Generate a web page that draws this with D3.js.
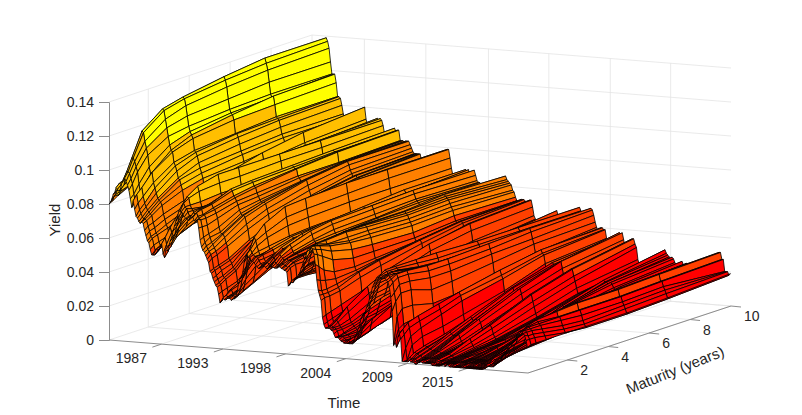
<!DOCTYPE html>
<html>
<head>
<meta charset="utf-8">
<script src="https://cdn.jsdelivr.net/npm/d3@7"></script>
<style>
  html, body { margin: 0; padding: 0; background: #fff; }
  text { font-family: "Liberation Sans", Arial, sans-serif; fill: #262626; }
</style>
</head>
<body>
<div id="surface"></div>
<script>
// maturities in years, one column per entry in yieldRows
const maturities = [0.08, 0.25, 0.5, 1, 2, 3, 5, 7, 10];

// date of each row
const dates = [
  1983,1983.125,1983.25,1983.375,1983.5,1983.625,1983.75,1983.875,
  1984,1984.125,1984.25,1984.375,1984.5,1984.625,1984.75,1984.875,
  1985,1985.125,1985.25,1985.375,1985.5,1985.625,1985.75,1985.875,
  1986,1986.125,1986.25,1986.375,1986.5,1986.625,1986.75,1986.875,
  1987,1987.125,1987.25,1987.375,1987.5,1987.625,1987.75,1987.875,
  1988,1988.125,1988.25,1988.375,1988.5,1988.625,1988.75,1988.875,
  1989,1989.125,1989.25,1989.375,1989.5,1989.625,1989.75,1989.875,
  1990,1990.125,1990.25,1990.375,1990.5,1990.625,1990.75,1990.875,
  1991,1991.125,1991.25,1991.375,1991.5,1991.625,1991.75,1991.875,
  1992,1992.125,1992.25,1992.375,1992.5,1992.625,1992.75,1992.875,
  1993,1993.125,1993.25,1993.375,1993.5,1993.625,1993.75,1993.875,
  1994,1994.125,1994.25,1994.375,1994.5,1994.625,1994.75,1994.875,
  1995,1995.125,1995.25,1995.375,1995.5,1995.625,1995.75,1995.875,
  1996,1996.125,1996.25,1996.375,1996.5,1996.625,1996.75,1996.875,
  1997,1997.125,1997.25,1997.375,1997.5,1997.625,1997.75,1997.875,
  1998,1998.125,1998.25,1998.375,1998.5,1998.625,1998.75,1998.875,
  1999,1999.125,1999.25,1999.375,1999.5,1999.625,1999.75,1999.875,
  2000,2000.125,2000.25,2000.375,2000.5,2000.625,2000.75,2000.875,
  2001,2001.125,2001.25,2001.375,2001.5,2001.625,2001.75,2001.875,
  2002,2002.125,2002.25,2002.375,2002.5,2002.625,2002.75,2002.875,
  2003,2003.125,2003.25,2003.375,2003.5,2003.625,2003.75,2003.875,
  2004,2004.125,2004.25,2004.375,2004.5,2004.625,2004.75,2004.875,
  2005,2005.125,2005.25,2005.375,2005.5,2005.625,2005.75,2005.875,
  2006,2006.125,2006.25,2006.375,2006.5,2006.625,2006.75,2006.875,
  2007,2007.125,2007.25,2007.375,2007.5,2007.625,2007.75,2007.875,
  2008,2008.125,2008.25,2008.375,2008.5,2008.625,2008.75,2008.875,
  2009,2009.125,2009.25,2009.375,2009.5,2009.625,2009.75,2009.875,
  2010,2010.125,2010.25,2010.375,2010.5,2010.625,2010.75,2010.875,
  2011,2011.125,2011.25,2011.375,2011.5,2011.625,2011.75,2011.875,
  2012,2012.125,2012.25,2012.375,2012.5,2012.625,2012.75,2012.875,
  2013,2013.125,2013.25,2013.375,2013.5,2013.625,2013.75,2013.875,
  2014,2014.125,2014.25,2014.375,2014.5,2014.625,2014.75,2014.875,
  2015,2015.125,2015.25,2015.375,2015.5,2015.625,2015.75,2015.875,
  2016,2016.125,2016.25,2016.375,2016.5,2016.625,2016.75,2016.875,
  2017,2017.125,2017.25,2017.375,2017.5,2017.625,2017.75,2017.875,
  2018,2018.125,2018.25,2018.375,2018.5,2018.625,2018.75,2018.875,
  2019,2019.125,2019.25,2019.375,2019.5,2019.625,2019.75
];

// yields in percent
const yieldRows = [
  [8.0,8.1,8.3,8.6,9.6,10.0,10.2,10.4,10.6],
  [8.1,8.4,8.4,8.8,9.7,10.1,10.4,10.5,10.7],
  [8.3,8.5,8.6,8.8,9.6,9.9,10.1,10.4,10.5],
  [8.6,8.7,8.9,9.2,10.0,10.3,10.6,10.9,11.0],
  [8.7,8.9,9.1,9.4,10.2,10.5,10.8,11.1,11.2],
  [9.0,9.2,9.3,9.8,10.5,10.9,11.1,11.4,11.5],
  [8.9,9.1,9.3,9.7,10.6,10.9,11.3,11.5,11.6],
  [8.8,9.0,9.2,9.6,10.5,10.8,11.2,11.4,11.5],
  [8.9,9.1,9.4,9.8,10.8,11.1,11.4,11.7,11.8],
  [9.3,9.5,10.0,10.9,11.8,12.2,12.6,12.8,12.9],
  [9.5,9.9,10.6,12.0,12.9,13.2,13.6,13.9,13.9],
  [9.6,9.9,10.6,11.9,12.8,13.1,13.4,13.6,13.7],
  [9.4,9.8,10.4,11.4,12.3,12.7,13.0,13.2,13.3],
  [9.2,9.5,10.1,11.0,11.8,12.1,12.3,12.5,12.5],
  [8.9,9.2,9.8,10.6,11.3,11.5,11.7,11.8,11.8],
  [8.4,8.6,9.1,9.9,10.8,11.2,11.5,11.6,11.8],
  [7.9,8.2,8.6,9.5,10.5,11.0,11.4,11.7,11.8],
  [8.3,8.6,8.9,9.6,10.4,10.8,11.1,11.2,11.3],
  [7.8,8.1,8.4,9.0,9.8,10.1,10.3,10.5,10.5],
  [7.4,7.7,8.0,8.7,9.6,10.0,10.3,10.4,10.5],
  [7.3,7.5,7.8,8.4,9.3,9.8,10.1,10.3,10.4],
  [7.1,7.3,7.6,8.1,8.9,9.4,9.7,9.9,10.0],
  [7.0,7.2,7.5,8.0,8.8,9.1,9.3,9.5,9.5],
  [7.1,7.2,7.4,7.9,8.5,8.8,9.1,9.3,9.3],
  [7.0,7.1,7.3,7.7,8.2,8.5,8.7,9.0,9.1],
  [6.6,6.8,6.9,7.2,7.6,7.8,8.0,8.2,8.3],
  [6.3,6.5,6.6,6.9,7.3,7.5,7.6,7.8,7.8],
  [6.0,6.2,6.3,6.6,7.1,7.3,7.5,7.7,7.8],
  [5.9,6.1,6.2,6.4,6.9,7.1,7.3,7.5,7.6],
  [5.5,5.7,5.8,6.0,6.5,6.7,7.0,7.2,7.3],
  [5.2,5.4,5.6,5.8,6.3,6.6,6.9,7.2,7.4],
  [5.2,5.5,5.6,5.9,6.4,6.6,7.0,7.3,7.4],
  [5.2,5.4,5.6,5.8,6.3,6.5,6.9,7.1,7.2],
  [5.3,5.5,5.7,5.9,6.4,6.7,7.0,7.3,7.5],
  [5.4,5.6,5.9,6.2,6.8,7.1,7.5,7.8,8.0],
  [5.5,5.7,6.3,6.9,7.6,8.0,8.4,8.6,8.8],
  [5.7,5.9,6.3,6.8,7.5,7.9,8.3,8.6,8.7],
  [5.9,6.2,6.7,7.5,8.3,8.7,9.3,9.7,10.0],
  [5.3,5.8,6.4,7.1,8.0,8.3,8.8,9.1,9.3],
  [5.1,5.4,6.0,6.8,7.6,7.9,8.4,8.7,8.9],
  [5.6,5.8,6.3,6.7,7.3,7.7,8.1,8.5,8.8],
  [5.5,5.7,6.1,6.6,7.2,7.6,8.0,8.3,8.6],
  [5.8,6.0,6.4,6.9,7.5,7.9,8.3,8.7,8.9],
  [6.1,6.3,6.7,7.2,7.9,8.2,8.6,8.9,9.1],
  [6.3,6.5,6.9,7.5,8.0,8.3,8.7,9.0,9.1],
  [6.7,6.9,7.3,7.7,8.2,8.5,8.8,9.1,9.2],
  [7.0,7.2,7.6,8.1,8.5,8.7,9.0,9.2,9.4],
  [7.3,7.6,8.0,8.5,8.9,9.0,9.1,9.2,9.3],
  [7.5,7.7,8.2,8.6,9.0,9.1,9.2,9.3,9.4],
  [7.9,8.2,8.6,9.0,9.3,9.3,9.3,9.3,9.3],
  [7.9,8.3,8.5,8.7,8.8,8.8,8.9,8.9,9.0],
  [7.9,8.1,8.1,8.1,8.2,8.2,8.3,8.4,8.5],
  [7.7,8.0,7.9,7.8,7.8,7.8,7.8,7.9,8.0],
  [7.6,7.8,7.8,7.8,7.9,7.9,7.9,8.0,8.1],
  [7.5,7.6,7.5,7.6,7.7,7.7,7.8,7.9,8.0],
  [7.5,7.6,7.6,7.6,7.8,7.8,7.8,7.9,8.0],
  [7.4,7.6,7.6,7.7,8.2,8.3,8.4,8.5,8.6],
  [7.6,7.8,7.9,8.0,8.4,8.5,8.6,8.7,8.8],
  [7.6,7.7,7.9,8.0,8.5,8.6,8.7,8.8,8.9],
  [7.6,7.8,7.9,8.0,8.4,8.5,8.6,8.7,8.7],
  [7.4,7.6,7.6,7.8,8.1,8.3,8.5,8.7,8.8],
  [7.4,7.5,7.6,7.7,8.0,8.2,8.5,8.7,8.8],
  [7.5,7.4,7.4,7.5,7.8,7.9,8.1,8.1,8.2],
  [7.0,7.0,7.0,7.2,7.6,7.7,8.0,8.1,8.2],
  [6.3,6.4,6.5,6.7,7.3,7.5,7.8,8.1,8.2],
  [5.9,6.1,6.3,6.4,7.1,7.4,7.8,8.0,8.1],
  [5.7,5.9,6.0,6.3,7.0,7.3,7.8,8.1,8.2],
  [5.6,5.7,5.9,6.3,7.0,7.4,7.9,8.2,8.2],
  [5.4,5.6,5.7,6.1,6.9,7.3,7.9,8.2,8.2],
  [5.2,5.4,5.5,5.8,6.5,7.0,7.6,8.0,8.0],
  [5.0,5.2,5.3,5.6,6.2,6.7,7.3,7.7,7.8],
  [4.5,4.6,4.7,4.9,5.6,6.1,7.0,7.5,7.6],
  [4.4,4.5,4.6,4.8,5.5,6.0,6.9,7.3,7.5],
  [4.1,4.2,4.4,4.6,5.6,6.2,7.0,7.4,7.5],
  [3.9,4.0,4.1,4.4,5.5,6.1,7.0,7.4,7.5],
  [3.7,3.8,4.0,4.3,5.4,6.0,6.9,7.3,7.5],
  [3.6,3.7,3.9,4.2,5.4,6.0,6.9,7.3,7.5],
  [3.2,3.3,3.4,3.6,4.7,5.3,6.3,6.9,7.1],
  [2.7,2.9,3.0,3.2,4.2,4.8,5.8,6.4,6.8],
  [2.8,3.0,3.3,3.6,4.6,5.2,6.2,6.7,7.0],
  [3.0,3.1,3.3,3.5,4.5,5.1,6.0,6.5,6.8],
  [2.9,3.0,3.1,3.4,4.1,4.6,5.4,6.0,6.4],
  [2.9,3.0,3.1,3.3,4.2,4.6,5.5,6.0,6.3],
  [3.0,3.1,3.2,3.5,4.3,4.7,5.3,5.8,6.1],
  [3.0,3.1,3.2,3.5,4.2,4.5,5.1,5.6,6.0],
  [3.0,3.1,3.2,3.4,4.0,4.3,4.9,5.3,5.7],
  [2.9,3.0,3.1,3.4,4.0,4.3,4.9,5.3,5.7],
  [3.0,3.1,3.3,3.6,4.2,4.5,5.1,5.5,5.8],
  [3.0,3.1,3.3,3.6,4.3,4.6,5.2,5.6,5.9],
  [3.1,3.3,3.6,4.0,4.8,5.2,5.8,6.2,6.4],
  [3.4,3.6,4.0,4.6,5.5,5.9,6.4,6.7,6.9],
  [3.9,4.1,4.5,5.1,5.9,6.2,6.7,7.0,7.1],
  [4.2,4.3,4.8,5.4,6.2,6.5,6.9,7.2,7.3],
  [4.3,4.6,5.1,5.6,6.3,6.6,7.0,7.2,7.3],
  [4.6,4.9,5.5,6.1,6.7,7.0,7.3,7.5,7.6],
  [5.2,5.5,6.2,6.8,7.4,7.6,7.8,7.9,7.9],
  [5.5,5.8,6.5,7.1,7.7,7.8,7.9,7.9,7.9],
  [5.7,5.9,6.3,6.6,7.1,7.2,7.3,7.4,7.4],
  [5.5,5.7,6.0,6.3,6.6,6.7,6.8,6.8,6.8],
  [5.5,5.6,5.7,5.8,6.0,6.1,6.2,6.3,6.4],
  [5.3,5.5,5.5,5.6,5.8,5.9,6.0,6.1,6.2],
  [5.3,5.5,5.5,5.7,6.0,6.1,6.2,6.4,6.5],
  [5.2,5.4,5.5,5.6,5.9,6.0,6.1,6.2,6.3],
  [5.1,5.3,5.3,5.4,5.5,5.6,5.7,5.8,5.9],
  [5.0,5.1,5.1,5.2,5.3,5.4,5.5,5.6,5.7],
  [4.9,5.0,5.0,5.1,5.4,5.5,5.7,5.9,6.0],
  [4.9,5.1,5.3,5.6,6.0,6.2,6.4,6.5,6.6],
  [5.0,5.1,5.3,5.6,6.0,6.2,6.4,6.6,6.7],
  [5.0,5.2,5.4,5.8,6.2,6.4,6.6,6.8,6.8],
  [5.1,5.2,5.4,5.7,6.1,6.3,6.5,6.6,6.7],
  [5.0,5.1,5.4,5.7,6.0,6.2,6.4,6.6,6.8],
  [4.9,5.0,5.2,5.5,5.8,5.9,6.1,6.2,6.3],
  [5.0,5.2,5.4,5.6,5.9,6.0,6.2,6.4,6.5],
  [5.1,5.2,5.4,5.6,6.0,6.2,6.3,6.5,6.6],
  [5.1,5.3,5.6,6.0,6.4,6.6,6.7,6.8,6.8],
  [5.1,5.2,5.5,5.8,6.2,6.4,6.5,6.6,6.5],
  [5.0,5.1,5.4,5.6,5.9,6.1,6.2,6.3,6.2],
  [5.0,5.1,5.3,5.5,5.8,5.9,6.0,6.2,6.1],
  [5.0,5.1,5.3,5.5,5.7,5.8,6.0,6.1,6.1],
  [5.1,5.2,5.4,5.5,5.7,5.7,5.8,5.9,5.9],
  [5.1,5.2,5.3,5.4,5.5,5.5,5.5,5.6,5.6],
  [5.0,5.1,5.3,5.4,5.6,5.6,5.6,5.7,5.7],
  [5.0,5.1,5.3,5.4,5.6,5.6,5.6,5.7,5.7],
  [4.9,5.0,5.2,5.4,5.6,5.6,5.6,5.7,5.7],
  [4.9,5.1,5.2,5.3,5.5,5.5,5.5,5.6,5.5],
  [4.8,5.0,5.1,5.1,5.0,5.0,5.0,5.2,5.2],
  [4.0,4.2,4.3,4.3,4.2,4.2,4.2,4.5,4.5],
  [4.1,4.3,4.4,4.4,4.4,4.3,4.4,4.6,4.6],
  [4.3,4.4,4.5,4.5,4.5,4.5,4.5,4.7,4.7],
  [4.2,4.4,4.5,4.6,4.8,4.9,4.9,5.1,5.1],
  [4.4,4.5,4.6,4.8,5.0,5.1,5.1,5.3,5.3],
  [4.4,4.6,4.8,5.0,5.3,5.4,5.5,5.7,5.7],
  [4.5,4.7,5.0,5.1,5.5,5.6,5.7,5.9,5.9],
  [4.7,4.9,5.1,5.2,5.6,5.7,5.8,6.0,6.0],
  [4.8,5.0,5.2,5.3,5.7,5.8,5.9,6.1,6.1],
  [5.1,5.3,5.5,5.7,6.1,6.2,6.2,6.4,6.3],
  [5.3,5.5,5.8,6.1,6.4,6.5,6.5,6.7,6.6],
  [5.6,5.8,6.0,6.2,6.5,6.5,6.5,6.6,6.4],
  [5.7,5.9,6.2,6.4,6.5,6.5,6.4,6.5,6.3],
  [6.1,6.2,6.4,6.4,6.5,6.4,6.3,6.4,6.2],
  [6.3,6.4,6.4,6.2,6.2,6.2,6.1,6.2,6.1],
  [6.3,6.4,6.3,6.2,6.0,6.0,5.9,6.0,5.8],
  [6.4,6.4,6.3,6.1,5.9,5.8,5.7,5.8,5.7],
  [6.3,6.2,6.1,5.8,5.5,5.4,5.3,5.5,5.4],
  [6.0,5.9,5.7,5.3,5.0,5.0,5.0,5.2,5.2],
  [5.4,5.2,4.9,4.6,4.5,4.6,4.8,5.1,5.1],
  [4.5,4.4,4.3,4.2,4.3,4.5,4.8,5.1,5.2],
  [3.9,3.8,3.8,3.9,4.2,4.5,4.9,5.2,5.3],
  [3.6,3.6,3.6,3.7,4.2,4.5,4.9,5.2,5.3],
  [3.3,3.4,3.4,3.5,3.9,4.2,4.7,5.1,5.3],
  [2.3,2.4,2.5,2.7,3.1,3.6,4.2,4.8,5.2],
  [1.9,2.0,2.1,2.3,3.0,3.5,4.3,4.9,5.2],
  [1.7,1.7,1.8,2.1,3.0,3.6,4.4,5.0,5.2],
  [1.7,1.8,2.0,2.5,3.3,3.9,4.6,5.1,5.3],
  [1.7,1.8,2.0,2.6,3.4,4.0,4.7,5.1,5.3],
  [1.7,1.7,1.9,2.3,3.0,3.5,4.3,4.7,4.9],
  [1.6,1.7,1.7,1.9,2.5,3.0,3.6,4.1,4.4],
  [1.6,1.6,1.6,1.7,2.2,2.6,3.2,3.8,4.2],
  [1.4,1.5,1.5,1.6,2.0,2.3,3.0,3.6,4.0],
  [1.2,1.2,1.3,1.5,1.9,2.2,3.0,3.5,4.0],
  [1.2,1.2,1.3,1.4,1.9,2.2,3.0,3.5,4.0],
  [1.2,1.2,1.2,1.3,1.7,2.1,2.8,3.4,3.9],
  [1.1,1.2,1.2,1.2,1.5,1.9,2.6,3.2,3.7],
  [1.0,1.1,1.1,1.1,1.4,1.7,2.4,3.0,3.5],
  [1.0,1.0,1.0,1.1,1.3,1.7,2.4,3.0,3.5],
  [0.9,1.0,1.0,1.2,1.7,2.2,3.1,3.7,4.2],
  [0.9,1.0,1.1,1.3,1.8,2.4,3.3,3.9,4.4],
  [0.9,0.9,1.0,1.3,1.9,2.4,3.3,3.9,4.4],
  [0.9,0.9,1.0,1.3,1.8,2.3,3.2,3.8,4.3],
  [0.9,1.0,1.0,1.2,1.7,2.2,3.1,3.6,4.1],
  [0.9,1.0,1.1,1.3,1.7,2.2,3.0,3.6,4.1],
  [0.9,1.0,1.3,1.7,2.4,2.9,3.6,4.2,4.7],
  [1.0,1.2,1.6,2.1,2.8,3.2,3.9,4.4,4.8],
  [1.3,1.5,1.8,2.1,2.7,3.0,3.7,4.1,4.5],
  [1.5,1.7,2.0,2.2,2.6,2.9,3.5,3.9,4.3],
  [1.8,2.0,2.3,2.4,2.8,3.0,3.5,3.9,4.2],
  [2.0,2.2,2.5,2.7,3.0,3.2,3.6,4.0,4.3],
  [2.4,2.6,2.8,3.0,3.4,3.6,3.9,4.2,4.4],
  [2.6,2.8,3.1,3.4,3.8,3.9,4.2,4.4,4.5],
  [2.7,2.9,3.1,3.4,3.7,3.8,3.9,4.0,4.2],
  [2.8,3.0,3.2,3.4,3.6,3.7,3.8,3.9,4.1],
  [3.1,3.3,3.5,3.6,3.9,3.9,4.0,4.1,4.2],
  [3.3,3.5,3.8,3.9,4.1,4.1,4.2,4.2,4.3],
  [3.6,3.8,4.1,4.3,4.4,4.4,4.4,4.4,4.5],
  [3.9,4.1,4.4,4.5,4.6,4.5,4.5,4.5,4.6],
  [4.3,4.4,4.6,4.7,4.7,4.7,4.6,4.6,4.7],
  [4.5,4.6,4.8,4.9,4.9,4.9,4.8,4.9,4.9],
  [4.7,4.8,5.0,5.1,5.0,5.0,5.0,5.0,5.0],
  [4.9,5.0,5.2,5.2,5.2,5.2,5.1,5.1,5.1],
  [4.9,5.0,5.1,5.1,5.0,4.9,4.9,4.9,4.9],
  [4.9,4.9,5.0,5.0,4.8,4.7,4.7,4.7,4.7],
  [4.9,5.0,5.0,5.0,4.7,4.6,4.6,4.6,4.6],
  [4.9,5.0,5.1,5.0,4.8,4.7,4.7,4.7,4.8],
  [4.9,5.0,5.1,5.0,4.8,4.7,4.7,4.8,4.8],
  [4.9,5.0,5.0,4.9,4.6,4.6,4.6,4.7,4.8],
  [4.8,4.9,5.0,5.0,4.8,4.8,4.8,4.9,4.9],
  [4.7,4.8,5.0,5.0,4.9,4.9,5.0,5.1,5.1],
  [4.4,4.6,4.8,4.8,4.6,4.6,4.7,4.9,5.0],
  [3.8,4.0,4.4,4.4,4.2,4.2,4.4,4.5,4.7],
  [3.0,3.5,3.9,3.9,3.5,3.6,3.9,4.2,4.3],
  [1.0,2.6,3.0,3.0,2.7,2.8,3.2,3.7,4.0],
  [1.2,1.9,2.1,2.2,2.0,2.2,2.8,3.4,3.7],
  [0.9,1.3,1.6,1.7,1.9,2.2,2.9,3.4,3.8],
  [1.5,1.8,2.0,2.3,2.6,2.9,3.4,3.8,4.0],
  [1.7,1.9,2.2,2.4,2.7,3.0,3.5,3.9,4.0],
  [1.4,1.6,1.9,2.1,2.4,2.8,3.2,3.7,3.9],
  [0.1,0.8,1.4,1.7,2.1,2.5,3.0,3.6,3.9],
  [0.1,0.1,0.9,1.2,1.4,1.7,2.3,3.1,3.4],
  [0.1,0.1,0.3,0.5,0.9,1.2,1.8,2.4,2.5],
  [0.1,0.3,0.5,0.7,1.0,1.4,2.0,2.6,2.9],
  [0.1,0.2,0.4,0.6,0.9,1.3,1.9,2.5,2.9],
  [0.2,0.2,0.4,0.6,1.0,1.4,2.2,2.9,3.3],
  [0.1,0.2,0.3,0.5,1.1,1.6,2.5,3.2,3.5],
  [0.1,0.2,0.3,0.5,1.0,1.5,2.5,3.1,3.5],
  [0.1,0.1,0.2,0.4,0.9,1.4,2.3,3.0,3.4],
  [0.0,0.1,0.2,0.4,0.9,1.4,2.2,3.0,3.5],
  [0.0,0.1,0.2,0.4,0.9,1.5,2.5,3.2,3.8],
  [0.1,0.1,0.2,0.4,0.9,1.4,2.4,3.2,3.7],
  [0.1,0.2,0.2,0.4,1.0,1.5,2.5,3.3,3.8],
  [0.2,0.2,0.2,0.4,0.8,1.3,2.2,2.9,3.4],
  [0.1,0.2,0.2,0.3,0.6,1.0,1.8,2.4,3.0],
  [0.1,0.1,0.2,0.3,0.5,0.8,1.5,2.2,2.8],
  [0.1,0.1,0.2,0.3,0.4,0.7,1.3,2.0,2.5],
  [0.1,0.1,0.2,0.3,0.5,0.8,1.6,2.4,3.0],
  [0.1,0.1,0.2,0.3,0.6,1.0,2.0,2.7,3.4],
  [0.1,0.1,0.2,0.3,0.7,1.2,2.2,2.9,3.5],
  [0.1,0.1,0.2,0.3,0.8,1.2,2.2,2.9,3.5],
  [0.0,0.1,0.1,0.2,0.6,1.0,1.8,2.5,3.2],
  [0.0,0.0,0.1,0.2,0.4,0.7,1.5,2.2,3.0],
  [0.0,0.0,0.1,0.1,0.3,0.5,1.1,1.8,2.3],
  [0.0,0.0,0.0,0.1,0.2,0.4,0.9,1.5,2.0],
  [0.0,0.0,0.1,0.1,0.3,0.4,0.9,1.5,2.0],
  [0.0,0.0,0.1,0.1,0.2,0.4,0.9,1.4,2.0],
  [0.1,0.1,0.1,0.2,0.3,0.4,0.9,1.5,2.1],
  [0.1,0.1,0.1,0.2,0.3,0.4,1.0,1.6,2.2],
  [0.1,0.1,0.1,0.2,0.3,0.4,0.8,1.3,1.8],
  [0.0,0.1,0.1,0.2,0.3,0.4,0.7,1.1,1.6],
  [0.1,0.1,0.1,0.2,0.2,0.3,0.7,1.1,1.6],
  [0.1,0.1,0.1,0.2,0.3,0.3,0.7,1.2,1.7],
  [0.0,0.1,0.1,0.2,0.2,0.3,0.7,1.2,1.7],
  [0.0,0.1,0.1,0.1,0.3,0.4,0.8,1.3,1.9],
  [0.0,0.1,0.1,0.1,0.3,0.4,0.8,1.4,2.0],
  [0.0,0.0,0.1,0.1,0.2,0.3,0.8,1.3,1.9],
  [0.0,0.0,0.1,0.1,0.3,0.4,1.0,1.6,2.1],
  [0.0,0.0,0.1,0.1,0.4,0.7,1.4,2.0,2.5],
  [0.0,0.0,0.1,0.1,0.4,0.7,1.5,2.2,2.7],
  [0.0,0.0,0.0,0.1,0.3,0.6,1.4,2.1,2.6],
  [0.0,0.1,0.1,0.1,0.3,0.7,1.5,2.3,2.8],
  [0.0,0.1,0.1,0.1,0.4,0.8,1.7,2.4,3.0],
  [0.0,0.0,0.1,0.1,0.4,0.8,1.6,2.3,2.8],
  [0.0,0.0,0.1,0.1,0.4,0.9,1.7,2.3,2.7],
  [0.0,0.0,0.1,0.1,0.5,0.9,1.7,2.2,2.6],
  [0.0,0.0,0.1,0.1,0.5,1.0,1.7,2.2,2.5],
  [0.0,0.0,0.1,0.1,0.6,1.0,1.8,2.3,2.6],
  [0.0,0.0,0.0,0.1,0.6,1.0,1.8,2.2,2.5],
  [0.0,0.0,0.1,0.2,0.6,1.0,1.6,2.0,2.3],
  [0.0,0.0,0.1,0.2,0.7,1.1,1.6,1.9,2.1],
  [0.0,0.0,0.1,0.3,0.7,1.0,1.5,1.8,2.0],
  [0.0,0.0,0.1,0.3,0.6,0.9,1.4,1.7,1.9],
  [0.0,0.0,0.1,0.3,0.7,1.0,1.6,2.0,2.3],
  [0.0,0.0,0.1,0.3,0.7,1.1,1.7,2.1,2.4],
  [0.0,0.0,0.1,0.4,0.7,1.0,1.5,1.9,2.2],
  [0.0,0.0,0.1,0.3,0.6,1.0,1.4,1.8,2.1],
  [0.1,0.1,0.3,0.5,0.9,1.2,1.7,2.1,2.3],
  [0.2,0.2,0.5,0.6,1.1,1.3,1.8,2.1,2.3],
  [0.3,0.3,0.4,0.6,0.8,1.0,1.4,1.7,1.9],
  [0.2,0.2,0.4,0.6,0.7,0.9,1.2,1.6,1.8],
  [0.2,0.3,0.4,0.6,0.7,0.9,1.3,1.6,1.8],
  [0.2,0.3,0.4,0.5,0.6,0.7,1.0,1.3,1.5],
  [0.2,0.3,0.4,0.5,0.7,0.8,1.1,1.3,1.5],
  [0.2,0.3,0.4,0.6,0.8,0.9,1.2,1.4,1.6],
  [0.3,0.4,0.5,0.7,1.0,1.2,1.6,1.9,2.1],
  [0.4,0.5,0.6,0.9,1.2,1.5,1.9,2.3,2.4],
  [0.5,0.6,0.8,0.9,1.3,1.6,2.0,2.3,2.5],
  [0.7,0.8,0.9,1.0,1.3,1.5,1.9,2.2,2.4],
  [0.7,0.9,1.0,1.1,1.3,1.5,1.8,2.1,2.3],
  [0.8,1.0,1.1,1.2,1.4,1.5,1.9,2.1,2.3],
  [0.9,1.1,1.1,1.2,1.4,1.6,1.9,2.2,2.3],
  [1.0,1.1,1.2,1.3,1.5,1.6,1.9,2.1,2.3],
  [1.1,1.3,1.4,1.5,1.7,1.8,2.1,2.3,2.4],
  [1.3,1.4,1.5,1.8,1.9,2.0,2.2,2.3,2.4],
  [1.5,1.6,1.8,2.0,2.2,2.3,2.5,2.6,2.7],
  [1.6,1.7,1.9,2.1,2.3,2.4,2.6,2.7,2.8],
  [1.7,1.8,2.0,2.2,2.4,2.6,2.7,2.8,2.9],
  [1.8,1.9,2.1,2.3,2.5,2.6,2.7,2.8,2.9],
  [1.9,2.0,2.2,2.4,2.6,2.7,2.7,2.8,2.9],
  [2.0,2.2,2.4,2.6,2.8,2.9,2.9,3.0,3.1],
  [2.2,2.3,2.5,2.7,2.8,2.9,2.9,3.0,3.1],
  [2.4,2.4,2.5,2.6,2.5,2.5,2.5,2.6,2.7],
  [2.4,2.4,2.5,2.5,2.5,2.5,2.5,2.6,2.7],
  [2.4,2.4,2.4,2.4,2.3,2.2,2.2,2.3,2.0],
  [2.3,2.3,2.3,2.2,2.0,1.9,2.0,2.1,2.0],
  [2.2,2.1,2.1,2.0,1.8,1.7,1.8,1.9,2.0],
  [1.9,1.9,1.9,1.8,1.6,1.5,1.5,1.6,1.8],
  [1.5,1.6,1.6,1.6,1.6,1.6,1.6,1.7,1.9]
];

// tick positions and the labels printed at them
const timeTicks = [1987.6, 1993, 1998.5, 2003.8, 2009.2, 2014.5];
const timeLabels = ["1987", "1993", "1998", "2004", "2009", "2015"];
const maturityTicks = [2, 4, 6, 8, 10];
const yieldTicks = [0, 0.02, 0.04, 0.06, 0.08, 0.1, 0.12, 0.14];

// five flat colours, low yield to high yield
const bandColors = ["#ff0000", "#ff4000", "#ff8000", "#ffbf00", "#ffff00"];

const width = 802, height = 415;
const originX = 109, originY = 340;

const svg = d3.select("#surface")
  .append("svg")
    .attr("width", width)
    .attr("height", height)
    .style("display", "block");

// oblique projection, each data axis gets a screen x and y scale
const timeDomain = [1983, 2019.8];
const matDomain = [0.08, 10];
const tX = d3.scaleLinear().domain(timeDomain).range([0, 419]);
const tY = d3.scaleLinear().domain(timeDomain).range([0, 33]);
const mX = d3.scaleLinear().domain(matDomain).range([0, 203]);
const mY = d3.scaleLinear().domain(matDomain).range([0, -67]);
const zY = d3.scaleLinear().domain([0, 0.14]).range([originY, originY - 238]);

const color = d3.scaleQuantize().domain([0, 0.139]).range(bandColors);

function project(t, m, z) {
  return [originX + tX(t) + mX(m), zY(z) + tY(t) + mY(m)];
}

const tMin = timeDomain[0], tMax = timeDomain[1];
const mMin = matDomain[0], mMax = matDomain[1];
const zTop = 0.14;

// grid on the two walls and the floor
const gridSegs = [];
yieldTicks.forEach(z => {
  gridSegs.push([project(tMin, mMin, z), project(tMin, mMax, z)]);
  gridSegs.push([project(tMin, mMax, z), project(tMax, mMax, z)]);
});
maturityTicks.forEach(m => {
  gridSegs.push([project(tMin, m, 0), project(tMin, m, zTop)]);
  gridSegs.push([project(tMin, m, 0), project(tMax, m, 0)]);
});
timeTicks.forEach(t => {
  gridSegs.push([project(t, mMax, 0), project(t, mMax, zTop)]);
  gridSegs.push([project(t, mMin, 0), project(t, mMax, 0)]);
});
gridSegs.push([project(tMax, mMin, 0), project(tMax, mMax, 0)]);

svg.append("g")
  .selectAll("line")
  .data(gridSegs)
  .join("line")
    .attr("x1", d => d[0][0])
    .attr("y1", d => d[0][1])
    .attr("x2", d => d[1][0])
    .attr("y2", d => d[1][1])
    .attr("stroke", "#e4e4e4")
    .attr("stroke-width", 0.8);

// axis lines
const axisColor = "#8c8c8c";
const axisSegs = [
  [project(tMin, mMin, 0), project(tMax, mMin, 0)],
  [project(tMax, mMin, 0), project(tMax, mMax, 0)]
];
svg.append("g")
  .selectAll("line")
  .data(axisSegs)
  .join("line")
    .attr("x1", d => d[0][0])
    .attr("y1", d => d[0][1])
    .attr("x2", d => d[1][0])
    .attr("y2", d => d[1][1])
    .attr("stroke", axisColor);

// yield axis is plain vertical so d3.axisLeft does it
const zAxis = svg.append("g")
  .attr("transform", `translate(${originX},0)`)
  .call(d3.axisLeft(zY).tickValues(yieldTicks).tickSize(10).tickPadding(5).tickFormat(d => d3.format("")(d)));
zAxis.select(".domain").attr("stroke", axisColor);
zAxis.selectAll(".tick line").attr("stroke", axisColor);
zAxis.selectAll("text").style("font-size", "14px").style("font-family", "'Liberation Sans', Arial, sans-serif").attr("fill", "#262626");

// time ticks
const timeTick = svg.append("g")
  .selectAll("g")
  .data(timeTicks)
  .join("g")
    .attr("transform", d => {
      const p = project(d, mMin, 0);
      return `translate(${p[0]},${p[1]})`;
    });
timeTick.append("line")
  .attr("x2", -9).attr("y2", 3)
  .attr("stroke", axisColor);
timeTick.append("text")
  .attr("x", -30).attr("y", 19)
  .attr("text-anchor", "middle")
  .style("font-size", "14px")
  .text((d, i) => timeLabels[i]);

// maturity ticks
const matTick = svg.append("g")
  .selectAll("g")
  .data(maturityTicks)
  .join("g")
    .attr("transform", d => {
      const p = project(tMax, d, 0);
      return `translate(${p[0]},${p[1]})`;
    });
matTick.append("line")
  .attr("x2", 10).attr("y2", 1)
  .attr("stroke", axisColor);
matTick.append("text")
  .attr("x", 13).attr("y", 15)
  .style("font-size", "14px")
  .text(d => d);

// surface, one polygon per grid cell, far cells first
const faces = [];
dates.forEach((t, i) => {
  if (i === dates.length - 1) return;
  for (let j = maturities.length - 2; j >= 0; j--) {
    const corners = [[i, j], [i, j + 1], [i + 1, j + 1], [i + 1, j]];
    faces.push({
      pts: corners.map(c => project(dates[c[0]], maturities[c[1]], yieldRows[c[0]][c[1]] / 100)),
      value: yieldRows[i][j] / 100
    });
  }
});

// thicker outline stands in for the denser row lines of the original
svg.append("g")
  .selectAll("polygon")
  .data(faces)
  .join("polygon")
    .attr("points", d => d.pts.map(p => p.join(",")).join(" "))
    .attr("fill", d => color(d.value))
    .attr("stroke", "#000")
    .attr("stroke-width", 0.8)
    .attr("stroke-linejoin", "round");

// axis titles
svg.append("text")
  .attr("transform", "translate(60,220) rotate(-90)")
  .attr("text-anchor", "middle")
  .style("font-size", "15px")
  .text("Yield");

svg.append("text")
  .attr("x", 344).attr("y", 408)
  .attr("text-anchor", "middle")
  .style("font-size", "15px")
  .text("Time");

svg.append("text")
  .attr("transform", "translate(677,375) rotate(-22)")
  .attr("text-anchor", "middle")
  .style("font-size", "15px")
  .text("Maturity (years)");
</script>
</body>
</html>
